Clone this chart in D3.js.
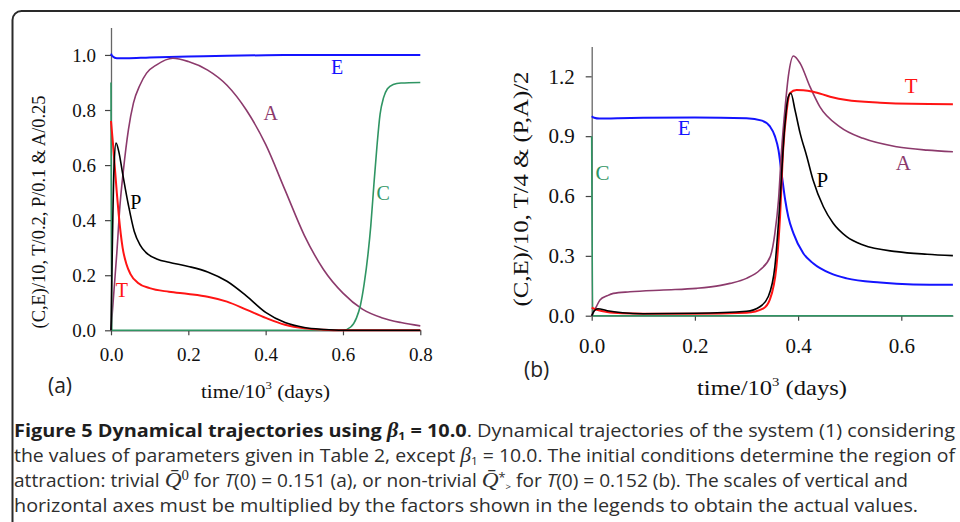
<!DOCTYPE html>
<html><head><meta charset="utf-8">
<script src="https://cdn.jsdelivr.net/npm/d3@7"></script>
<style>body{margin:0;background:#fff;} svg{display:block;}</style>
</head><body><svg id="c" width="960" height="522"></svg>
<script>
// ---------- Panel (a) data (time in 10^3 days) ----------
const tE_a = [0, 0.004, 0.015, 0.04, 0.1, 0.2, 0.3, 0.4, 0.5, 0.6, 0.7, 0.8];
const E_a  = [1.005, 0.995, 0.988, 0.988, 0.991, 0.994, 0.997, 0.999, 1.0, 1.0, 1.0, 1.0];
const tA_a = [0, 0.008, 0.015, 0.023, 0.032, 0.045, 0.058, 0.075, 0.092, 0.118, 0.16, 0.2, 0.25, 0.3, 0.35, 0.4, 0.45, 0.5, 0.55, 0.6, 0.65, 0.7, 0.75, 0.8];
const A_a  = [0, 0.15, 0.28, 0.45, 0.58, 0.728, 0.825, 0.891, 0.934, 0.964, 0.988, 0.976, 0.945, 0.89, 0.8, 0.675, 0.51, 0.345, 0.22, 0.135, 0.077, 0.046, 0.028, 0.016];
const tP_a = [0, 0.004, 0.008, 0.013, 0.02, 0.03, 0.045, 0.06, 0.075, 0.09, 0.12, 0.15, 0.2, 0.25, 0.3, 0.35, 0.4, 0.45, 0.5, 0.55, 0.6, 0.8];
const P_a  = [0, 0.35, 0.6, 0.68, 0.65, 0.57, 0.455, 0.36, 0.31, 0.283, 0.258, 0.247, 0.232, 0.212, 0.178, 0.125, 0.065, 0.028, 0.01, 0.003, 0, 0];
const tT_a = [0, 0.005, 0.01, 0.015, 0.02, 0.03, 0.04, 0.05, 0.07, 0.1, 0.15, 0.2, 0.25, 0.3, 0.35, 0.4, 0.45, 0.5, 0.55, 0.6, 0.8];
const T_a  = [0.76, 0.68, 0.59, 0.5, 0.42, 0.3, 0.24, 0.205, 0.172, 0.153, 0.14, 0.132, 0.122, 0.104, 0.075, 0.045, 0.02, 0.007, 0.002, 0, 0];
const tC_a = [0, 0.002, 0.3, 0.6, 0.62, 0.635, 0.645, 0.655, 0.665, 0.672, 0.68, 0.688, 0.696, 0.705, 0.715, 0.73, 0.75, 0.8];
const C_a  = [0.9, 0, 0, 0, 0.012, 0.045, 0.09, 0.17, 0.28, 0.38, 0.53, 0.67, 0.785, 0.845, 0.877, 0.893, 0.898, 0.9];

// ---------- Panel (b) data ----------
const tE_b = [0, 0.005, 0.015, 0.05, 0.1, 0.2, 0.3, 0.33, 0.345, 0.355, 0.362, 0.368, 0.375, 0.381, 0.391, 0.41, 0.429, 0.462, 0.494, 0.559, 0.623, 0.7];
const E_b  = [1.0, 0.992, 0.988, 0.99, 0.992, 0.993, 0.99, 0.978, 0.95, 0.9, 0.83, 0.714, 0.58, 0.496, 0.413, 0.313, 0.263, 0.213, 0.187, 0.166, 0.157, 0.155];
const tA_b = [0, 0.008, 0.016, 0.03, 0.042, 0.074, 0.139, 0.203, 0.25, 0.268, 0.3, 0.326, 0.346, 0.355, 0.362, 0.368, 0.375, 0.381, 0.391, 0.404, 0.423, 0.442, 0.481, 0.526, 0.591, 0.65, 0.7];
const A_b  = [0, 0.04, 0.079, 0.1, 0.112, 0.12, 0.129, 0.137, 0.152, 0.162, 0.187, 0.229, 0.296, 0.413, 0.58, 0.83, 1.048, 1.198, 1.302, 1.265, 1.148, 1.048, 0.947, 0.889, 0.847, 0.83, 0.822];
const tT_b = [0, 0.01, 0.03, 0.06, 0.1, 0.2, 0.3, 0.333, 0.345, 0.358, 0.365, 0.371, 0.378, 0.384, 0.397, 0.41, 0.429, 0.462, 0.494, 0.559, 0.62, 0.7];
const T_b  = [0.04, 0.03, 0.018, 0.012, 0.01, 0.01, 0.015, 0.037, 0.079, 0.246, 0.496, 0.83, 1.031, 1.115, 1.131, 1.13, 1.123, 1.098, 1.081, 1.068, 1.062, 1.06];
const tP_b = [0, 0.005, 0.012, 0.03, 0.06, 0.1, 0.2, 0.3, 0.326, 0.342, 0.355, 0.365, 0.373, 0.381, 0.386, 0.394, 0.404, 0.417, 0.429, 0.449, 0.468, 0.494, 0.526, 0.591, 0.65, 0.7];
const P_b  = [0, 0.025, 0.035, 0.025, 0.015, 0.01, 0.012, 0.022, 0.045, 0.095, 0.246, 0.58, 0.914, 1.098, 1.115, 1.031, 0.914, 0.797, 0.68, 0.546, 0.463, 0.396, 0.354, 0.321, 0.308, 0.301];
const tC_b = [0, 0.002, 0.7];
const C_b  = [0.9, 0, 0];

// ---------- ticks ----------
const xTicks_a = [0, 0.2, 0.4, 0.6, 0.8];
const yTicks_a = [0, 0.2, 0.4, 0.6, 0.8, 1.0];
const xTicks_b = [0, 0.2, 0.4, 0.6];
const yTicks_b = [0, 0.3, 0.6, 0.9, 1.2];

// ---------- curve labels (data coordinates) ----------
const labels_a = [["T", 0.028, 0.146], ["P", 0.064, 0.467], ["A", 0.413, 0.788], ["E", 0.585, 0.958], ["C", 0.704, 0.498]];
const labels_b = [["T", 0.619, 1.151], ["E", 0.179, 0.94], ["C", 0.021, 0.714], ["P", 0.447, 0.68], ["A", 0.604, 0.764]];

const colors = {E: "#1414ff", A: "#8c3a6c", P: "#000000", T: "#ff1414", C: "#2f9563"};
const widths = {E: 2, A: 1.6, P: 1.6, T: 2, C: 1.6};
const serif = "'Liberation Serif', 'Times New Roman', serif";

const svg = d3.select("#c");

// frame
svg.append("rect").attr("x", 12.5).attr("y", 11).attr("width", 1000).attr("height", 700)
  .attr("rx", 9).attr("fill", "none").attr("stroke", "#2a2a2a").attr("stroke-width", 2);

function panel(cfg) {
  const x = d3.scaleLinear().domain(cfg.xDomain).range(cfg.xRange);
  const y = d3.scaleLinear().domain(cfg.yDomain).range(cfg.yRange);
  const g = svg.append("g");

  const ya = g.append("g").attr("transform", `translate(${cfg.xRange[0]},0)`)
    .call(d3.axisLeft(y).tickValues(cfg.yTicks).tickFormat(d3.format(".1f")).tickSize(6).tickSizeOuter(0).tickPadding(cfg.yPad));
  const xa = g.append("g").attr("transform", `translate(0,${cfg.yRange[0]})`)
    .call(d3.axisBottom(x).tickValues(cfg.xTicks).tickFormat(d3.format(".1f")).tickSize(5).tickSizeOuter(0));
  [ya, xa].forEach(a => {
    a.select(".domain").attr("stroke", "#666").attr("stroke-width", 1.3);
    a.selectAll(".tick line").attr("stroke", "#444").attr("stroke-width", 1.2);
    a.selectAll("text").attr("font-family", serif).attr("font-size", cfg.tickFont).attr("fill", "#111");
  });
  xa.selectAll("text").attr("dy", null).attr("y", cfg.xLabOff);

  const line = d3.line().x(d => x(d[0])).y(d => y(d[1])).curve(d3.curveMonotoneX);
  cfg.series.forEach(s => {
    const pts = s.t.map((t, i) => [t, s.v[i]]);
    g.append("path").datum(pts).attr("d", line).attr("fill", "none")
      .attr("stroke", colors[s.k]).attr("stroke-width", widths[s.k]).attr("stroke-linejoin", "round");
  });

  cfg.labels.forEach(l => {
    g.append("text").attr("x", x(l[1])).attr("y", y(l[2])).attr("text-anchor", "middle")
      .attr("dominant-baseline", "central").attr("font-family", serif).attr("font-size", cfg.lblFont)
      .attr("fill", colors[l[0]]).text(l[0]);
  });

  // y title
  g.append("text").attr("transform", `translate(${cfg.yTitle[0]},${cfg.yTitle[1]}) rotate(-90)`)
    .attr("text-anchor", "middle").attr("dominant-baseline", "central")
    .attr("font-family", serif).attr("font-size", cfg.yTitleFont).attr("fill", "#111")
    .attr("textLength", cfg.yTitleLen).attr("lengthAdjust", "spacingAndGlyphs")
    .text(cfg.yTitleText);

  // x title
  const xt = g.append("text").attr("x", cfg.xTitle[0]).attr("y", cfg.xTitle[1]).attr("text-anchor", "middle")
    .attr("font-family", serif).attr("font-size", cfg.xTitleFont).attr("fill", "#111")
    .attr("textLength", cfg.xTitleLen).attr("lengthAdjust", "spacingAndGlyphs");
  xt.append("tspan").text("time/10");
  xt.append("tspan").attr("font-size", cfg.xTitleFont * 0.6).attr("dy", -cfg.xTitleFont * 0.45).text("3");
  xt.append("tspan").attr("dy", cfg.xTitleFont * 0.45).text(" (days)");

  g.append("text").attr("x", cfg.tag[0]).attr("y", cfg.tag[1])
    .attr("font-family", "'Open Sans', sans-serif").attr("font-size", 21).attr("fill", "#222").text(cfg.tagText);
}

panel({
  xDomain: [0, 0.8], xRange: [111, 420.3], yDomain: [0, 1.1], yRange: [330.3, 27.4],
  xTicks: xTicks_a, yTicks: yTicks_a, yPad: 9, tickFont: 19, xLabOff: 31, lblFont: 20,
  series: [
    {k: "E", t: tE_a, v: E_a}, {k: "A", t: tA_a, v: A_a}, {k: "C", t: tC_a, v: C_a},
    {k: "T", t: tT_a, v: T_a}, {k: "P", t: tP_a, v: P_a}],
  labels: labels_a,
  yTitle: [39, 212], yTitleFont: 18, yTitleLen: 233, yTitleText: "(C,E)/10, T/0.2, P/0.1 & A/0.25",
  xTitle: [265.5, 398], xTitleFont: 19, xTitleLen: 129,
  tag: [48, 393], tagText: "(a)"
});

panel({
  xDomain: [0, 0.7], xRange: [591.7, 952.9], yDomain: [0, 1.35], yRange: [315.7, 46.4],
  xTicks: xTicks_b, yTicks: yTicks_b, yPad: 11, tickFont: 21, xLabOff: 37.5, lblFont: 21,
  series: [
    {k: "C", t: tC_b, v: C_b}, {k: "E", t: tE_b, v: E_b}, {k: "A", t: tA_b, v: A_b},
    {k: "T", t: tT_b, v: T_b}, {k: "P", t: tP_b, v: P_b}],
  labels: labels_b,
  yTitle: [520, 189], yTitleFont: 22, yTitleLen: 235, yTitleText: "(C,E)/10, T/4 & (P,A)/2",
  xTitle: [772, 395], xTitleFont: 21, xTitleLen: 150,
  tag: [524, 377], tagText: "(b)"
});

// ---------- caption ----------
const capFont = "'Open Sans', 'Noto Sans', sans-serif";
const cap = svg.append("g").attr("font-family", capFont).attr("font-size", 18).attr("fill", "#2e2e2e");

function capLine(yb, len, parts) {
  const t = cap.append("text").attr("x", 14).attr("y", yb)
    .attr("textLength", len).attr("lengthAdjust", "spacingAndGlyphs");
  parts.forEach(p => {
    const s = t.append("tspan").text(p.s);
    if (p.b) s.attr("font-weight", "bold").attr("fill", "#1e1e1e");
    if (p.i) s.attr("font-style", "italic");
    if (p.f) s.attr("font-family", p.f);
    if (p.fs) s.attr("font-size", p.fs);
    if (p.dy) s.attr("dy", p.dy);
  });
}

capLine(437, 941, [
  {s: "Figure 5 Dynamical trajectories using ", b: 1},
  {s: "β", b: 1, i: 1, f: serif, fs: 20},
  {s: "1", b: 1, fs: 11, dy: 3},
  {s: " = 10.0", b: 1, dy: -3},
  {s: ". Dynamical trajectories of the system (1) considering"}
]);
capLine(462, 941, [
  {s: "the values of parameters given in Table 2, except "},
  {s: "β", i: 1, f: serif, fs: 20},
  {s: "1", fs: 11, dy: 3},
  {s: " = 10.0. The initial conditions determine the region of", dy: -3}
]);
capLine(487, 894, [
  {s: "attraction: trivial "},
  {s: "Q\u0304", i: 1, f: serif, fs: 22},
  {s: "0", f: serif, fs: 14, dy: -7},
  {s: " for ", dy: 7},
  {s: "T", i: 1},
  {s: "(0) = 0.151 (a), or non-trivial "},
  {s: "Q\u0304", i: 1, f: serif, fs: 22},
  {s: "*", fs: 12, dy: -5},
  {s: ">", fs: 9, dy: 8},
  {s: "  for ", dy: -3},
  {s: "T", i: 1},
  {s: "(0) = 0.152 (b). The scales of vertical and"}
]);
capLine(512, 904, [
  {s: "horizontal axes must be multiplied by the factors shown in the legends to obtain the actual values."}
]);
</script>
</body></html>
